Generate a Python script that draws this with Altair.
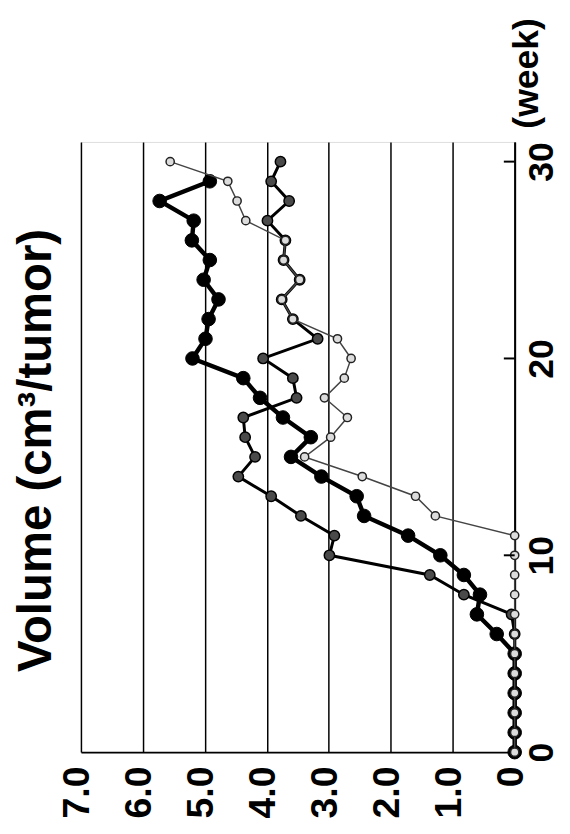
import altair as alt
import pandas as pd

# ---- data read from the (rotated) reference chart ----
weeks = list(range(31))
series_a = [0, 0, 0, 0, 0, 0, 0.29, 0.61, 0.56, 0.82, 1.20, 1.72, 2.43, 2.55, 3.12,
            3.61, 3.29, 3.74, 4.11, 4.38, 5.20, 4.99, 4.94, 4.78, 5.02, 4.92, 5.21,
            5.18, 5.73, 4.92]                      # weeks 0-29
series_b = [0, 0, 0, 0, 0, 0, 0, 0.05, 0.82, 1.37, 2.99, 2.91, 3.45, 3.93, 4.46,
            4.19, 4.35, 4.38, 3.52, 3.58, 4.06, 3.18, 3.58, 3.76, 3.47, 3.73, 3.70,
            3.99, 3.64, 3.93, 3.78]                # weeks 0-30
series_c = [0, 0, 0, 0, 0, 0, 0, 0, 0, 0, 0, 0, 1.28, 1.60, 2.46, 3.39, 2.97, 2.70,
            3.07, 2.75, 2.64, 2.86, 3.58, 3.76, 3.47, 3.73, 3.70, 4.34, 4.48, 4.63,
            5.56]                                  # weeks 0-30
volume_ticks = [0, 1, 2, 3, 4, 5, 6, 7]
week_ticks = [0, 10, 20, 30]
inner_tick_weeks = [10, 20, 30]
title_text = ["Volume (cm³/tumor)"]

rows = []
for name, vals in [("A", series_a), ("B", series_b), ("C", series_c)]:
    for w, v in zip(weeks, vals):
        rows.append({"series": name, "week": w, "volume": v})
df = pd.DataFrame(rows)
ticks_df = pd.DataFrame({"week": inner_tick_weeks})
title_df = pd.DataFrame({"t": title_text})

FONT = "Liberation Sans"

x_scale = alt.Scale(domain=[0, 7], reverse=True, nice=False, zero=False)
y_scale = alt.Scale(domain=[0, 31], nice=False, zero=False)

x_axis = alt.Axis(
    orient="bottom", values=volume_ticks,
    labelExpr="datum.value == 0 ? '0' : format(datum.value, '.1f')",
    labelAngle=270, labelAlign="right", labelBaseline="middle",
    labelFont=FONT, labelFontWeight="bold", labelFontSize=38, labelColor="black",
    labelPadding=14, labelOffset=-3, ticks=False, domain=True, domainColor="black",
    domainWidth=2, grid=True, gridColor="black", gridWidth=1.5, gridOpacity=1,
    title=None, labelOverlap=False, labelFlush=False,
)
y_axis = alt.Axis(
    orient="right", values=week_ticks,
    labelAngle=270, labelAlign="center", labelBaseline="top",
    labelFont=FONT, labelFontWeight="bold", labelFontSize=36, labelColor="black",
    labelPadding=10, ticks=False, domain=True, domainColor="black", domainWidth=2,
    grid=False, labelOverlap=False, labelFlush=False,
    title="(week)", titleAngle=270, titleAlign="left", titleBaseline="top",
    titleX=-5, titleY=-14, titleFont=FONT, titleFontWeight="bold",
    titleFontSize=36, titleColor="black",
)

X = alt.X("volume:Q", scale=x_scale, axis=x_axis)
Y = alt.Y("week:Q", scale=y_scale, axis=y_axis)

base = alt.Chart(df)

def series_layers(name, line_w, line_color, pt_size, fill, stroke, stroke_w):
    d = base.transform_filter(alt.datum.series == name)
    line = d.mark_line(color=line_color, strokeWidth=line_w).encode(
        x=X, y=Y, order="week:Q")
    pts = d.mark_point(filled=True, size=pt_size, fill=fill, stroke=stroke,
                       strokeWidth=stroke_w, opacity=1, shape="circle").encode(x=X, y=Y)
    return [line, pts]

layers = []
layers += series_layers("A", 4.5, "black", 190, "black", "black", 1)
layers += series_layers("B", 3, "black", 110, "#4a4a4a", "black", 1.5)
layers += series_layers("C", 1.5, "#444444", 70, "#dcdcdc", "#222222", 1.5)

inner_ticks = alt.Chart(ticks_df).mark_rule(color="black", strokeWidth=2).encode(
    y=alt.Y("week:Q", scale=y_scale, axis=y_axis),
    x=alt.value(429), x2=alt.value(440),
)
layers.append(inner_ticks)

title_mark = alt.Chart(title_df).mark_text(
    angle=270, align="center", baseline="middle", fontSize=48, font=FONT,
    fontWeight="bold", color="black",
).encode(text="t:N", x=alt.value(-44), y=alt.value(313))
layers.append(title_mark)

chart = alt.layer(*layers).properties(
    width=440, height=619,
    padding={"left": 74, "top": 130, "right": 48, "bottom": 65},
    autosize=alt.AutoSizeParams(type="none"),
).configure_view(stroke="black", strokeWidth=2).configure(background="white")

chart.save("out.html", embed_options={"renderer": "svg", "actions": False})
